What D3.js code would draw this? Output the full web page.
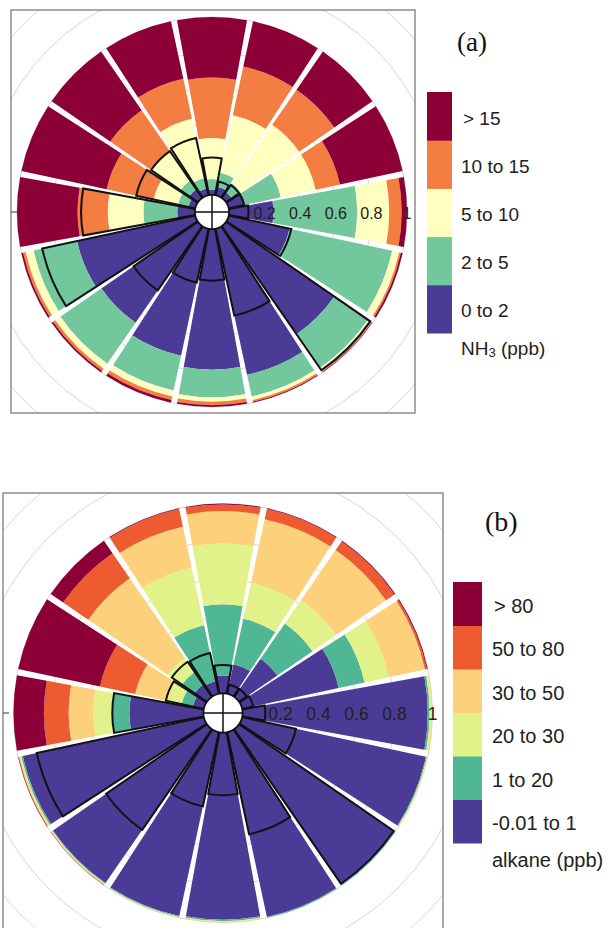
<!DOCTYPE html>
<html>
<head>
<meta charset="utf-8">
<script src="https://cdn.jsdelivr.net/npm/d3@7/dist/d3.min.js"></script>
<style>
  body { margin: 0; background: #fff; }
  svg { display: block; }
</style>
</head>
<body>
<svg id="chart" width="610" height="928"></svg>
<script>
// wind sectors, clockwise from north
const directions = ["N","NNE","NE","ENE","E","ESE","SE","SSE","S","SSW","SW","WSW","W","WNW","NW","NNW"];
const radialTicks = [0.2, 0.4, 0.6, 0.8, 1];

// (a) NH3 - share of each concentration band per sector
const nh3Keys   = ["0 to 2", "2 to 5", "5 to 10", "10 to 15", "> 15"];
const nh3Colors = ["#4b3a96", "#72c79d", "#ffffc0", "#f47d42", "#8c0037"];
const nh3_0to2   = [0.03,0.05,0.04,0.09,0.25,0.35,0.74,0.84,0.79,0.73,0.66,0.68,0.10,0.04,0.06,0.04];
const nh3_2to5   = [0.06,0.08,0.06,0.21,0.47,0.59,0.23,0.125,0.155,0.20,0.28,0.25,0.19,0.06,0.06,0.06];
const nh3_5to10  = [0.23,0.33,0.40,0.20,0.18,0.04,0.02,0.02,0.025,0.035,0.035,0.045,0.20,0.14,0.20,0.34];
const nh3_10to15 = [0.34,0.28,0.24,0.14,0.07,0.01,0.007,0.01,0.02,0.02,0.015,0.015,0.17,0.27,0.28,0.23];
const nh3_gt15   = [0.34,0.26,0.26,0.36,0.03,0.01,0.003,0.005,0.01,0.015,0.01,0.01,0.34,0.49,0.40,0.33];
// outlined wedges (wind frequency)
const nh3Freq    = [0.21,0.08,0.09,0.09,0.11,0.36,0.985,0.50,0.29,0.31,0.44,0.88,0.64,0.34,0.32,0.33];

// (b) alkane
const alkKeys   = ["-0.01 to 1", "1 to 20", "20 to 30", "30 to 50", "50 to 80", "> 80"];
const alkColors = ["#4b3a96", "#4fb794", "#e2f28a", "#fdd07b", "#ef5b30", "#8c0037"];
const alk_m001to1 = [0.095,0.16,0.245,0.52,0.975,0.99,0.995,0.995,0.985,0.99,0.985,0.975,0.39,0.06,0.08,0.07];
const alk_1to20   = [0.375,0.245,0.225,0.14,0.01,0.005,0.005,0.005,0.008,0.005,0.005,0.008,0.09,0.06,0.08,0.30];
const alk_20to30  = [0.32,0.195,0.15,0.13,0.01,0.005,0,0,0.004,0.003,0.004,0.007,0.10,0.08,0.09,0.31];
const alk_30to50  = [0.17,0.34,0.32,0.195,0.005,0,0,0,0.003,0.002,0.003,0.005,0.13,0.17,0.51,0.22];
const alk_50to80  = [0.035,0.055,0.055,0.01,0,0,0,0,0,0,0.002,0.003,0.13,0.19,0.16,0.095];
const alk_gt80    = [0.005,0.005,0.005,0.005,0,0,0,0,0,0,0.001,0.002,0.16,0.44,0.08,0.005];
const alkFreq     = [0.15,0.05,0.05,0.06,0.12,0.29,0.99,0.55,0.33,0.40,0.645,0.90,0.48,0.205,0.225,0.22];

const svg = d3.select("#chart");
const deg = Math.PI / 180;

function drawPanel(p) {
  const rows = directions.map((d, i) => {
    const row = { dir: d };
    p.keys.forEach((k, j) => row[k] = p.series[j][i]);
    return row;
  });
  const stacked = d3.stack().keys(p.keys)(rows);

  const r = d3.scaleLinear().domain([0, 1]).range([p.r0, p.R]);
  const ang = d3.scaleBand().domain(directions).range([-11.25 * deg, 348.75 * deg]);
  const half = (ang.bandwidth() - 1.8 * deg) / 2;
  const mid = d => ang(d) + ang.bandwidth() / 2;

  const clipId = "clip-" + p.id;
  svg.append("clipPath").attr("id", clipId)
    .append("rect").attr("x", p.box[0]).attr("y", p.box[1]).attr("width", p.box[2]).attr("height", p.box[3]);

  const g = svg.append("g").attr("clip-path", "url(#" + clipId + ")");
  const c = g.append("g").attr("transform", "translate(" + p.cx + "," + p.cy + ")");

  // faint grid rings
  c.selectAll(".ring")
    .data(d3.range(1, 9).map(k => k * 0.2))
    .enter().append("circle")
      .attr("r", d => r(d))
      .attr("fill", "none")
      .attr("stroke", "#d6d6d6")
      .attr("stroke-width", 1);

  const arc = d3.arc();

  // stacked bands
  stacked.forEach((s, j) => {
    c.append("g").selectAll("path")
      .data(s.filter(d => d[1] - d[0] > 0))
      .enter().append("path")
        .attr("fill", p.colors[j])
        .attr("d", d => arc({
          innerRadius: r(d[0]), outerRadius: r(d[1]),
          startAngle: mid(d.data.dir) - half, endAngle: mid(d.data.dir) + half
        }));
  });

  // frequency outlines
  c.append("g").selectAll("path")
    .data(directions.map((d, i) => ({ dir: d, v: p.freq[i] })))
    .enter().append("path")
      .attr("fill", "none")
      .attr("stroke", "#111")
      .attr("stroke-width", 2)
      .attr("stroke-linejoin", "miter")
      .attr("d", d => arc({
        innerRadius: p.r0, outerRadius: r(d.v),
        startAngle: mid(d.dir) - half, endAngle: mid(d.dir) + half
      }));

  // centre
  c.append("circle").attr("r", p.r0).attr("fill", "#fff").attr("stroke", "#111").attr("stroke-width", 1.5);
  c.append("line").attr("x1", -p.r0).attr("x2", p.r0).attr("stroke", "#111").attr("stroke-width", 1.5);
  c.append("line").attr("y1", -p.r0).attr("y2", p.r0).attr("stroke", "#111").attr("stroke-width", 1.5);

  // radial labels
  c.selectAll(".tick")
    .data(radialTicks)
    .enter().append("text")
      .attr("x", d => r(d))
      .attr("y", 1)
      .attr("text-anchor", "middle")
      .attr("dominant-baseline", "central")
      .attr("font-family", "Liberation Sans, Arial, sans-serif")
      .attr("font-size", p.tickSize)
      .attr("fill", "#222")
      .text(d => d3.format("")(d));

  // frame + small tick on the left edge
  svg.append("rect")
    .attr("x", p.box[0]).attr("y", p.box[1]).attr("width", p.box[2]).attr("height", p.box[3])
    .attr("fill", "none").attr("stroke", "#707070").attr("stroke-width", 1.2);
  svg.append("line")
    .attr("x1", p.box[0]).attr("x2", p.box[0] + 6)
    .attr("y1", p.cy).attr("y2", p.cy)
    .attr("stroke", "#555").attr("stroke-width", 1.2);

  // panel letter
  svg.append("text")
    .attr("x", p.tag[0]).attr("y", p.tag[1])
    .attr("font-family", "Liberation Serif, Times New Roman, serif")
    .attr("font-size", p.tagSize)
    .attr("fill", "#111")
    .text(p.tagText);

  // legend (highest class on top)
  const L = p.legend;
  const n = p.keys.length;
  const lg = svg.append("g");
  p.keys.forEach((k, j) => {
    const pos = n - 1 - j;
    lg.append("rect")
      .attr("x", L.x).attr("y", L.y + pos * L.h)
      .attr("width", L.w).attr("height", L.h + 0.5)
      .attr("fill", p.colors[j]);
    lg.append("text")
      .attr("x", L.tx + (k.startsWith(">") ? 2 : 0))
      .attr("y", L.y + (pos + 0.5) * L.h + 2)
      .attr("dominant-baseline", "central")
      .attr("font-family", "Liberation Sans, Arial, sans-serif")
      .attr("font-size", L.fs)
      .attr("fill", "#222")
      .text(k);
  });
  const title = lg.append("text")
    .attr("x", L.tx)
    .attr("y", L.y + n * L.h + L.titleGap)
    .attr("dominant-baseline", "central")
    .attr("font-family", "Liberation Sans, Arial, sans-serif")
    .attr("font-size", L.fs)
    .attr("fill", "#222");
  p.unit(title);
}

drawPanel({
  id: "a", cx: 212, cy: 212, r0: 17, R: 195,
  box: [11, 10, 404, 403],
  keys: nh3Keys, colors: nh3Colors,
  series: [nh3_0to2, nh3_2to5, nh3_5to10, nh3_10to15, nh3_gt15],
  freq: nh3Freq, tickSize: 16,
  tag: [457, 51], tagSize: 27, tagText: "(a)",
  legend: { x: 427, y: 92, w: 25, h: 48.2, tx: 461, fs: 19, titleGap: 15 },
  unit: t => {
    t.append("tspan").text("NH");
    t.append("tspan").attr("font-size", 13).attr("dy", 4).text("3");
    t.append("tspan").attr("dy", -4).text(" (ppb)");
  }
});

drawPanel({
  id: "b", cx: 223, cy: 713, r0: 19.5, R: 209.5,
  box: [3, 493, 440, 440],
  keys: alkKeys, colors: alkColors,
  series: [alk_m001to1, alk_1to20, alk_20to30, alk_30to50, alk_50to80, alk_gt80],
  freq: alkFreq, tickSize: 17.5,
  tag: [485, 531], tagSize: 28, tagText: "(b)",
  legend: { x: 453, y: 582, w: 29, h: 43.5, tx: 492, fs: 20, titleGap: 17 },
  unit: t => t.text("alkane (ppb)")
});
</script>
</body>
</html>
